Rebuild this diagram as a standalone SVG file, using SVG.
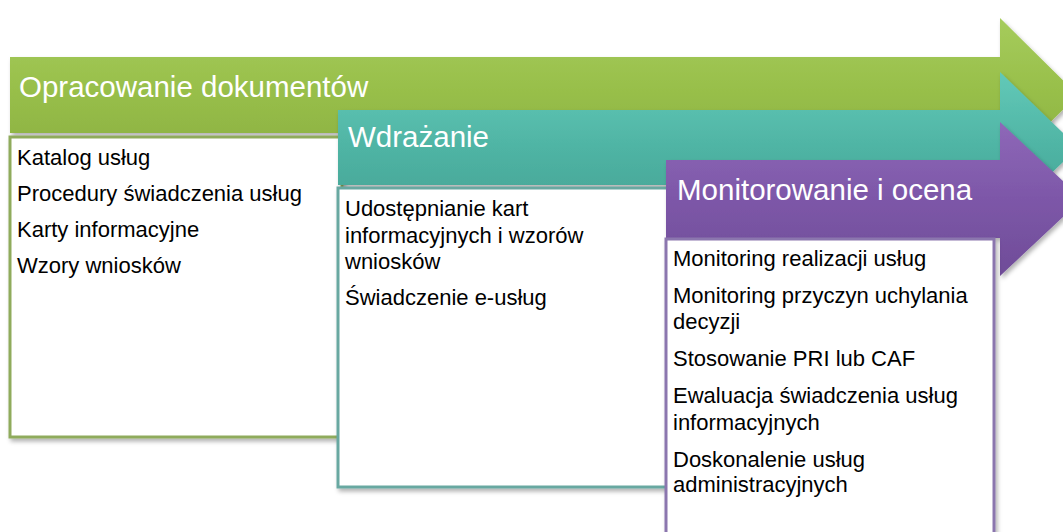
<svg xmlns="http://www.w3.org/2000/svg" width="1063" height="532" viewBox="0 0 1063 532">
<style>
.title{font-family:"Liberation Sans",Arial,sans-serif;font-size:29.5px;fill:#ffffff}
.item{font-family:"Liberation Sans",Arial,sans-serif;font-size:22px;fill:#000000}
.box{fill:#ffffff;stroke-width:3}
</style>
<defs>
<linearGradient id="gGreen" x1="0" y1="0" x2="0" y2="1">
<stop offset="0" stop-color="#a6cc5c"/><stop offset="0.5" stop-color="#97be49"/><stop offset="1" stop-color="#89ad3f"/>
</linearGradient>
<linearGradient id="gTeal" x1="0" y1="0" x2="0" y2="1">
<stop offset="0" stop-color="#62c9b8"/><stop offset="0.5" stop-color="#4fb4a4"/><stop offset="1" stop-color="#45a193"/>
</linearGradient>
<linearGradient id="gPurple" x1="0" y1="0" x2="0" y2="1">
<stop offset="0" stop-color="#8e68b8"/><stop offset="0.5" stop-color="#7d57a8"/><stop offset="1" stop-color="#6f4c98"/>
</linearGradient>
<filter id="sh" x="-5%" y="-5%" width="115%" height="115%">
<feDropShadow dx="2" dy="3" stdDeviation="2" flood-color="#000" flood-opacity="0.3"/>
</filter>
</defs>
<rect width="1063" height="532" fill="#ffffff"/>

<g id="stage1">
<path d="M10,57 H1000 V18 L1078,95 L1000,172 V133 H10 Z" fill="url(#gGreen)" filter="url(#sh)"/>
<text class="title" x="19" y="97">Opracowanie dokumentów</text>
<rect class="box" x="10" y="137" width="332" height="300" stroke="#8fab5c" filter="url(#sh)"/>
<text class="item" x="17" y="165">Katalog usług</text>
<text class="item" x="17" y="201">Procedury świadczenia usług</text>
<text class="item" x="17" y="237">Karty informacyjne</text>
<text class="item" x="17" y="273">Wzory wniosków</text>
</g>

<g id="stage2">
<path d="M338,110 H1000 V72 L1078,147.5 L1000,223 V185 H338 Z" fill="url(#gTeal)" filter="url(#sh)"/>
<text class="title" x="348" y="147">Wdrażanie</text>
<rect class="box" x="338" y="188" width="330" height="299" stroke="#68a8a1" filter="url(#sh)"/>
<text class="item" x="345" y="216">Udostępnianie kart</text>
<text class="item" x="345" y="243">informacyjnych i wzorów</text>
<text class="item" x="345" y="269">wniosków</text>
<text class="item" x="345" y="305">Świadczenie e-usług</text>
</g>

<g id="stage3">
<path d="M666,160 H1000 V122 L1082,199 L1000,276 V238 H666 Z" fill="url(#gPurple)" filter="url(#sh)"/>
<text class="title" x="677" y="200">Monitorowanie i ocena</text>
<rect class="box" x="666" y="239" width="328" height="300" stroke="#8b76ae" filter="url(#sh)"/>
<text class="item" x="673" y="266">Monitoring realizacji usług</text>
<text class="item" x="673" y="303">Monitoring przyczyn uchylania</text>
<text class="item" x="673" y="329">decyzji</text>
<text class="item" x="673" y="366">Stosowanie PRI lub CAF</text>
<text class="item" x="673" y="403">Ewaluacja świadczenia usług</text>
<text class="item" x="673" y="430">informacyjnych</text>
<text class="item" x="673" y="467">Doskonalenie usług</text>
<text class="item" x="673" y="492">administracyjnych</text>
</g>
</svg>
